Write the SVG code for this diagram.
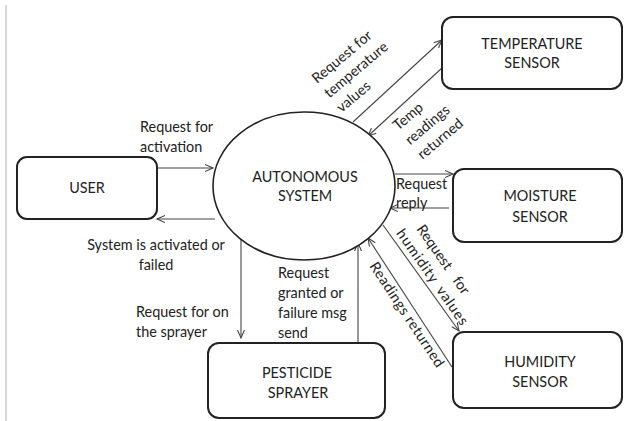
<svg xmlns="http://www.w3.org/2000/svg" width="624" height="421" viewBox="0 0 624 421">
<style>
.box{fill:#fff;stroke:#222;stroke-width:2}
.ell{fill:#fff;stroke:#222;stroke-width:1.6}
.ln{fill:none;stroke:#444;stroke-width:1.1;marker-end:url(#ah)}
text{font-family:Lato,"Liberation Sans",sans-serif;font-size:14.4px;fill:#222}
.c{text-anchor:middle}
</style>
<defs>
<marker id="ah" markerWidth="10" markerHeight="10" refX="8" refY="4" orient="auto" markerUnits="userSpaceOnUse">
<path d="M0,0.5 L8,4 L0,7.5" fill="none" stroke="#444" stroke-width="1.1"/>
</marker>
</defs>
<rect width="624" height="421" fill="#fff"/>
<line x1="6" y1="5" x2="6" y2="421" stroke="#bbb" stroke-width="1.2"/>

<g id="connectors">
<line class="ln" x1="157" y1="168" x2="213" y2="168"/>
<line class="ln" x1="215" y1="219" x2="157" y2="219"/>
<line class="ln" x1="241" y1="235" x2="241" y2="338"/>
<line class="ln" x1="358" y1="343" x2="358" y2="243"/>
<line class="ln" x1="353" y1="122" x2="442" y2="40"/>
<line class="ln" x1="442" y1="68" x2="368" y2="136"/>
<line class="ln" x1="395" y1="174" x2="453" y2="174"/>
<line class="ln" x1="449" y1="208" x2="390" y2="208"/>
<line class="ln" x1="383" y1="225" x2="459" y2="331"/>
<line class="ln" x1="452" y1="367" x2="368" y2="238"/>
</g>

<g id="labels">
<text x="140" y="132">Request for</text>
<text x="140" y="152">activation</text>
<text class="c" x="156" y="250">System is activated or</text>
<text class="c" x="156" y="270">failed</text>
<text x="136" y="317">Request for on</text>
<text x="136" y="337">the sprayer</text>
<text x="278" y="278">Request</text>
<text x="278" y="298">granted or</text>
<text x="278" y="318">failure msg</text>
<text x="278" y="338">send</text>
<text x="396" y="189">Request</text>
<text x="396" y="208">reply</text>
<g transform="translate(317,84) rotate(-40)">
<text x="0" y="0">Request for</text>
<text x="0" y="19">temperature</text>
<text x="0" y="38">values</text>
</g>
<g transform="translate(398,131) rotate(-40)">
<text x="0" y="0">Temp</text>
<text x="0" y="19">readings</text>
<text x="0" y="38">returned</text>
</g>
<g transform="translate(416,229) rotate(55)">
<text x="0" y="0" word-spacing="8">Request for</text>
<text x="-8" y="19" letter-spacing="0.9" word-spacing="3">humidity values</text>
</g>
<g transform="translate(369,266) rotate(56.5)">
<text x="0" y="0" letter-spacing="0.5">Readings returned</text>
</g>
</g>

<g id="user">
<rect class="box" x="17" y="157" width="140" height="62" rx="10"/>
<text class="c" x="87" y="193">USER</text>
</g>
<g id="system">
<ellipse class="ell" cx="304" cy="186" rx="91" ry="74"/>
<text class="c" x="305" y="182">AUTONOMOUS</text>
<text class="c" x="305" y="201">SYSTEM</text>
</g>
<g id="temperature">
<rect class="box" x="442" y="17" width="180" height="72" rx="11"/>
<text class="c" x="532" y="49">TEMPERATURE</text>
<text class="c" x="532" y="68">SENSOR</text>
</g>
<g id="moisture">
<rect class="box" x="453" y="169" width="169" height="73" rx="11"/>
<text class="c" x="540" y="201">MOISTURE</text>
<text class="c" x="540" y="222">SENSOR</text>
</g>
<g id="humidity">
<rect class="box" x="453" y="332" width="169" height="76" rx="11"/>
<text class="c" x="540" y="367">HUMIDITY</text>
<text class="c" x="540" y="387">SENSOR</text>
</g>
<g id="sprayer">
<rect class="box" x="208" y="343" width="177" height="75" rx="11"/>
<text class="c" x="297" y="378">PESTICIDE</text>
<text class="c" x="298" y="398">SPRAYER</text>
</g>
</svg>
